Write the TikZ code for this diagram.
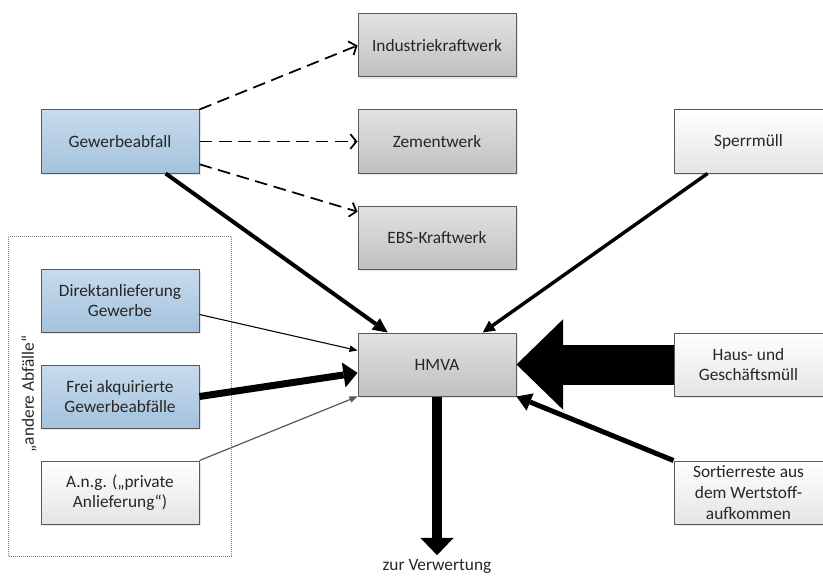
\documentclass[tikz,border=0pt]{standalone}
\usepackage{fontspec}
\setmainfont{Carlito}
\usepackage{xcolor}
\usepackage{tikz}
\usetikzlibrary{arrows.meta, positioning, fit, shadows}

\definecolor{boxline}{RGB}{89,89,89}
\definecolor{txt}{RGB}{38,38,38}
\definecolor{plantT}{RGB}{226,226,226}
\definecolor{plantB}{RGB}{192,192,192}
\definecolor{commT}{RGB}{200,219,236}
\definecolor{commB}{RGB}{164,194,221}
\definecolor{hhB}{RGB}{228,228,228}

\begin{document}
\begin{tikzpicture}[
  x=0.75pt, y=-0.75pt,
  node distance=24pt and 118.5pt,
  base/.style={draw=boxline, line width=0.75pt, minimum width=118.5pt,
    minimum height=47.25pt, align=center, text=txt,
    font=\fontsize{13pt}{15.5pt}\selectfont,
    drop shadow={shadow xshift=1.2pt, shadow yshift=-1.2pt, opacity=0.2}},
  plant/.style={base, top color=plantT, bottom color=plantB},
  comm/.style={base, top color=commT, bottom color=commB},
  hh/.style={base, top color=white, bottom color=hhB},
  dasharr/.style={-{Straight Barb[length=4.5pt, width=11pt]}, line width=1.3pt,
    dash pattern=on 9.5pt off 5pt},
  flow/.style args={#1/#2/#3}{line width=#1,
    -{Triangle[length=#2, width=#3, line width=0pt]}}
]
  \useasboundingbox (0,0) rectangle (823,581);

  % Verwertungswege
  \node[plant] (ind) at (437,45.5) {Industriekraftwerk};
  \node[plant, below=of ind] (zem) {Zementwerk};
  \node[plant, below=of zem] (ebs) {EBS-Kraftwerk};
  \node[plant, below=47.25pt of ebs] (hmva) {HMVA};

  % Gewerbe
  \node[comm, left=of zem] (gew) {Gewerbeabfall};
  \node[comm, below=71.25pt of gew] (direkt) {Direktanlieferung\\Gewerbe};
  \node[comm, below=of direkt] (frei) {Frei akquirierte\\Gewerbeabfälle};
  \node[hh, below=of frei] (ang) {A.n.g. („private\\Anlieferung“)};
  \node[draw=gray, densely dotted, line width=0.5pt, fit=(direkt)(ang),
    inner sep=24pt] (grp) {};
  \node[rotate=90, text=txt, font=\fontsize{13pt}{15.5pt}\selectfont]
    (grplbl) at (29,394) {„andere Abfälle“};

  % Haushalte
  \node[hh, minimum width=111.75pt, right=117.75pt of zem] (sperr) {Sperrmüll};
  \node[hh, minimum width=111.75pt, right=117.75pt of hmva] (haus) {Haus- und\\Geschäftsmüll};
  \node[hh, minimum width=111.75pt, inner ysep=0.5pt, below=48pt of haus] (sort)
    {Sortierreste aus\\dem Wertstoff-\\aufkommen};

  \node[text=txt, font=\fontsize{13pt}{15.5pt}\selectfont, inner sep=3pt,
    below=119pt of hmva] (verw) {zur Verwertung};

  \draw[dasharr] (gew.north east) -- (ind.west);
  \draw[dasharr] (gew.east) -- (zem.west);
  \draw[dasharr] (gew.-16) -- (ebs.162);
  \draw[flow=3pt/11pt/10.5pt] (gew.-35) -- (hmva.147);
  \draw[flow=2.6pt/9pt/9pt] (sperr.218) -- (hmva.35);
  \draw[flow=0.8pt/6pt/5pt] (direkt.-10) -- (hmva.170);
  \draw[flow=5.25pt/10.5pt/19pt] (frei.east) -- (hmva.186);
  \draw[flow=0.9pt/6pt/5pt, draw=boxline, fill=boxline] (ang.north east) -- (hmva.south west);
  \draw[flow=30pt/35pt/68pt] (haus.west) -- (hmva.east);
  \draw[flow=3.75pt/11pt/14pt] (sort.north west) -- (hmva.south east);
  \draw[flow=7.5pt/13pt/25pt] (hmva.south) -- (verw.north);
\end{tikzpicture}
\end{document}
